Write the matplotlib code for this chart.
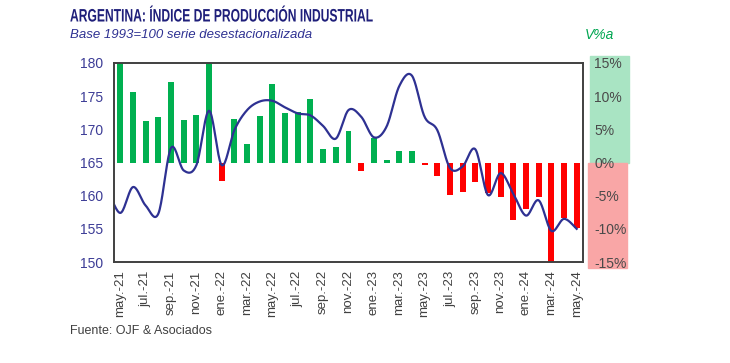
import numpy as np
import matplotlib.pyplot as plt
from matplotlib.patches import Rectangle
from matplotlib import transforms
from matplotlib.patheffects import AbstractPathEffect

# meses (may-21 a may-24)
meses = ['may.-21', 'jun.-21', 'jul.-21', 'ago.-21', 'sep.-21', 'oct.-21', 'nov.-21', 'dic.-21',
         'ene.-22', 'feb.-22', 'mar.-22', 'abr.-22', 'may.-22', 'jun.-22', 'jul.-22', 'ago.-22',
         'sep.-22', 'oct.-22', 'nov.-22', 'dic.-22',
         'ene.-23', 'feb.-23', 'mar.-23', 'abr.-23', 'may.-23', 'jun.-23', 'jul.-23', 'ago.-23',
         'sep.-23', 'oct.-23', 'nov.-23', 'dic.-23',
         'ene.-24', 'feb.-24', 'mar.-24', 'abr.-24', 'may.-24']

# variacion interanual (%)
var_anual = [30.0, 10.7, 6.3, 6.9, 12.1, 6.4, 7.1, 15.5,
             -2.8, 6.6, 2.8, 7.0, 11.9, 7.4, 7.6, 9.6, 2.1, 2.4, 4.7, -1.3,
             3.7, 0.35, 1.7, 1.7, -0.45, -2.0, -4.9, -4.4, -2.9, -4.6, -5.2, -8.7,
             -7.0, -5.2, -15.5, -8.3, -9.9]

# indice desestacionalizado (primer valor = abr-21)
indice = [161.0,
          157.4, 161.3, 158.5, 157.3, 167.2, 163.8, 164.6, 172.8,
          164.6, 169.9, 172.9, 174.2, 174.3, 173.3, 172.4, 172.1, 170.5, 168.6, 172.9, 171.9,
          168.8, 170.4, 176.5, 178.1, 171.9, 169.9, 164.2, 164.4, 167.0, 160.1, 163.4, 160.3,
          157.0, 159.3, 154.7, 156.5, 155.0]


def suavizar(x, y, n=20):
    # curva suavizada tipo Excel (Catmull-Rom)
    x = np.asarray(x, float)
    y = np.asarray(y, float)
    xs, ys = [], []
    for i in range(len(x) - 1):
        x0, y0 = (x[i - 1], y[i - 1]) if i > 0 else (x[i], y[i])
        x3, y3 = (x[i + 2], y[i + 2]) if i + 2 < len(x) else (x[i + 1], y[i + 1])
        x1, y1, x2, y2 = x[i], y[i], x[i + 1], y[i + 1]
        cx1, cy1 = x1 + (x2 - x0) / 6, y1 + (y2 - y0) / 6
        cx2, cy2 = x2 - (x3 - x1) / 6, y2 - (y3 - y1) / 6
        t = np.linspace(0, 1, n)
        b0, b1, b2, b3 = (1 - t) ** 3, 3 * t * (1 - t) ** 2, 3 * t ** 2 * (1 - t), t ** 3
        xs.extend(b0 * x1 + b1 * cx1 + b2 * cx2 + b3 * x2)
        ys.extend(b0 * y1 + b1 * cy1 + b2 * cy2 + b3 * y2)
    return np.array(xs), np.array(ys)


class Estrechar(AbstractPathEffect):
    # comprime el texto en horizontal (fuente condensada)
    def __init__(self, sx, x0):
        super().__init__()
        self.sx = sx
        self.x0 = x0

    def draw_path(self, renderer, gc, tpath, affine, rgbFace=None):
        t = transforms.Affine2D().translate(-self.x0, 0).scale(self.sx, 1).translate(self.x0, 0)
        renderer.draw_path(gc, tpath, affine + t, rgbFace)


plt.rcParams['font.family'] = ['Liberation Sans', 'DejaVu Sans']

fig = plt.figure(figsize=(7.3, 3.63), dpi=100)
ax = fig.add_axes([114 / 730, 1 - 262 / 363, 469 / 730, 199 / 363])
ax2 = ax.twinx()

x = np.arange(len(meses))
colores = ['#00b050' if v >= 0 else '#ff0000' for v in var_anual]
ax2.bar(x, var_anual, width=0.47, color=colores, zorder=1)
ax2.set_ylim(-15, 15)
ax2.set_yticks([-15, -10, -5, 0, 5, 10, 15])
ax2.set_yticklabels(['-15%', '-10%', '-5%', '0%', '5%', '10%', '15%'])
ax2.tick_params(axis='y', length=0, pad=8, labelsize=10, labelcolor='#4a4a4a')

# fondo de etiquetas del eje derecho
tr = transforms.blended_transform_factory(ax.transAxes, ax2.transData)
ax2.add_patch(Rectangle((1.015, 0), 0.083, 16.05, transform=tr, color='#a9e4c3',
                        clip_on=False, zorder=0))
ax2.add_patch(Rectangle((1.01, -15.9), 0.083, 15.9, transform=tr, color='#f9a6a6',
                        clip_on=False, zorder=0))

# linea del indice en el eje izquierdo (dibujada encima)
ax.set_zorder(ax2.get_zorder() + 1)
ax.patch.set_visible(False)
xi = np.arange(-1, len(meses))
xl, yl = suavizar(xi, indice)
ax.plot(xl, yl, color='#2e3192', lw=1.6)
ax.set_ylim(150, 180)
ax.set_xlim(-0.5, len(meses) - 0.5)
ax.set_yticks(range(150, 185, 5))
ax.tick_params(axis='y', length=0, pad=8, labelsize=10, labelcolor='#3c3c96')
ax.set_xticks(x[::2])
ax.set_xticklabels(meses[::2], rotation=90, fontsize=9.5, color='#404040')
ax.tick_params(axis='x', length=0, pad=6)

for a in (ax, ax2):
    for s in a.spines.values():
        s.set_color('#404040')
        s.set_linewidth(1.2)

fig.text(70 / 730, 1 - 17 / 363, 'ARGENTINA: ÍNDICE DE PRODUCCIÓN INDUSTRIAL',
         fontsize=13, fontweight='bold', color='#1f1f7a', va='center',
         path_effects=[Estrechar(0.67, 70)])
fig.text(70 / 730, 1 - 35 / 363, 'Base 1993=100 serie desestacionalizada',
         fontsize=9.5, style='italic', color='#2e3192', va='center')
fig.text(585 / 730, 1 - 35 / 363, 'V%a', fontsize=10, style='italic', color='#00a651',
         va='center')
fig.text(70 / 730, 1 - 331 / 363, 'Fuente: OJF & Asociados', fontsize=9,
         color='#404040', va='center')

fig.savefig('out.png', dpi=100)
